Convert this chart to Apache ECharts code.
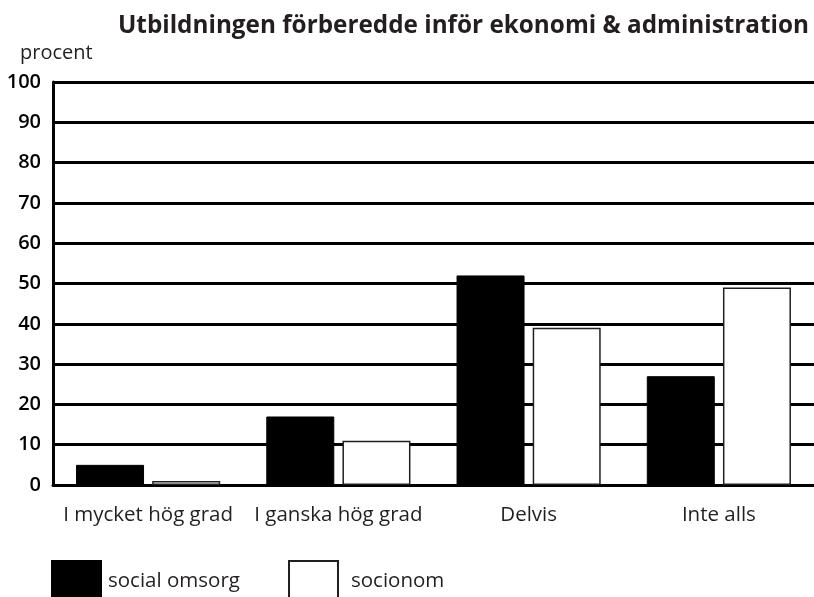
<!DOCTYPE html>
<html><head><meta charset="utf-8">
<script src="https://cdn.jsdelivr.net/npm/echarts@6/dist/echarts.min.js"></script>
<style>html,body{margin:0;padding:0;background:#fff}#c{width:814px;height:597px}</style>
</head><body><div id="c"></div>
<script>
const categories = ["I mycket hög grad", "I ganska hög grad", "Delvis", "Inte alls"];
const socialOmsorg = [5, 17, 52, 27];
const socionom = [1, 11, 39, 49];
const yTicks = [0, 10, 20, 30, 40, 50, 60, 70, 80, 90, 100];
const FONT = 'Open Sans';
const chart = echarts.init(document.getElementById('c'));
chart.setOption({
  animation: false,
  backgroundColor: '#fff',
  title: {
    text: 'Utbildningen förberedde inför ekonomi & administration',
    left: 113, top: 9,
    textStyle: {fontFamily: FONT, fontWeight: 'bold', fontSize: 24.3, color: '#231f20'}
  },
  graphic: [{
    type: 'text', left: 20, top: 43,
    style: {text: 'procent', fontFamily: FONT, fontSize: 20, fill: '#231f20'}
  }],
  legend: [{
    data: ['social omsorg'], left: 46, top: 555, itemWidth: 49, itemHeight: 40, itemGap: 0,
    icon: 'rect',
    textStyle: {fontFamily: FONT, fontSize: 20.5, color: '#231f20', padding: [0,0,0,2]}
  }, {
    data: ['socionom'], left: 283, top: 555, itemWidth: 49, itemHeight: 40,
    icon: 'rect',
    textStyle: {fontFamily: FONT, fontSize: 20.5, color: '#231f20', padding: [0,0,0,8]}
  }],
  grid: {left: 53, right: 0, top: 82, bottom: 112, containLabel: false},
  xAxis: {
    type: 'category', data: categories,
    axisLine: {lineStyle: {color: '#000', width: 3}},
    axisTick: {inside: true, length: 9, lineStyle: {color: '#000', width: 3}},
    axisLabel: {fontFamily: FONT, fontSize: 20.5, color: '#231f20', margin: 20, interval: 0}
  },
  yAxis: {
    type: 'value', min: 0, max: 100, interval: 10,
    axisLine: {show: true, lineStyle: {color: '#000', width: 3}},
    axisTick: {show: false},
    splitLine: {lineStyle: {color: '#000', width: 3}},
    axisLabel: {fontFamily: FONT, fontSize: 20, color: '#000', fontWeight: 600, margin: 12,
      formatter: v => yTicks.includes(v) ? String(v) : ''}
  },
  series: [{
    name: 'social omsorg', type: 'bar', data: socialOmsorg,
    barWidth: 68, barGap: '12%',
    itemStyle: {color: '#000', borderColor: '#000', borderWidth: 1}
  }, {
    name: 'socionom', type: 'bar', data: socionom,
    barWidth: 68, barGap: '12%',
    itemStyle: {color: '#fff', borderColor: '#231f20', borderWidth: 1.5}
  }]
});
</script></body></html>
